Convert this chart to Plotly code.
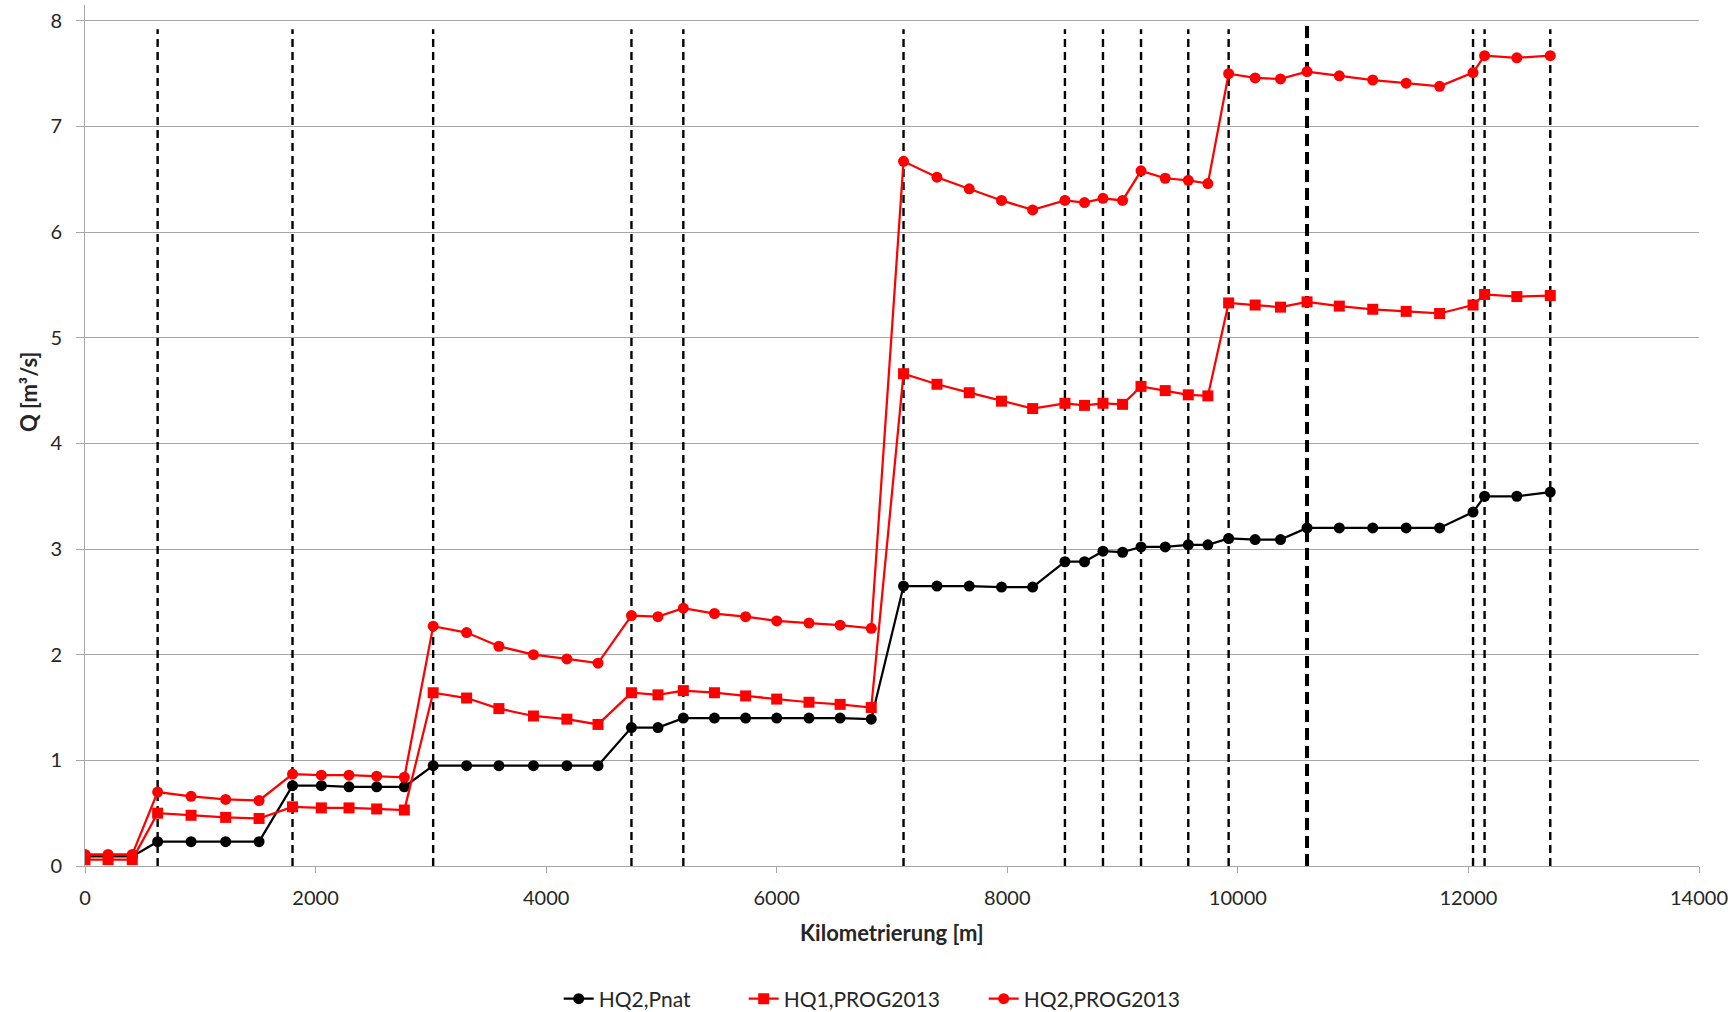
import plotly.graph_objects as go

# Kilometrierung of the cross sections [m]
km = [0, 200, 410, 630, 920, 1220, 1510, 1800, 2050, 2290, 2530, 2770,
      3020, 3310, 3590, 3890, 4180, 4450, 4740, 4970, 5190, 5460, 5730,
      6000, 6280, 6550, 6820, 7100, 7390, 7670, 7950, 8220, 8500, 8670,
      8830, 9000, 9160, 9370, 9570, 9740, 9920, 10150, 10370, 10600,
      10880, 11170, 11460, 11750, 12040, 12140, 12420, 12710]

# Discharge Q [m³/s]
hq2_pnat = [0.09, 0.09, 0.09, 0.23, 0.23, 0.23, 0.23, 0.76, 0.76, 0.75,
            0.75, 0.75, 0.95, 0.95, 0.95, 0.95, 0.95, 0.95, 1.31, 1.31,
            1.40, 1.40, 1.40, 1.40, 1.40, 1.40, 1.39, 2.65, 2.65, 2.65,
            2.64, 2.64, 2.88, 2.88, 2.98, 2.97, 3.02, 3.02, 3.04, 3.04,
            3.10, 3.09, 3.09, 3.20, 3.20, 3.20, 3.20, 3.20, 3.35, 3.50,
            3.50, 3.54]

hq1_prog2013 = [0.06, 0.06, 0.06, 0.50, 0.48, 0.46, 0.45, 0.56, 0.55, 0.55,
                0.54, 0.53, 1.64, 1.59, 1.49, 1.42, 1.39, 1.34, 1.64, 1.62,
                1.66, 1.64, 1.61, 1.58, 1.55, 1.53, 1.50, 4.66, 4.56, 4.48,
                4.40, 4.33, 4.38, 4.36, 4.38, 4.37, 4.54, 4.50, 4.46, 4.45,
                5.33, 5.31, 5.29, 5.34, 5.30, 5.27, 5.25, 5.23, 5.31, 5.41,
                5.39, 5.40]

hq2_prog2013 = [0.11, 0.11, 0.11, 0.70, 0.66, 0.63, 0.62, 0.87, 0.86, 0.86,
                0.85, 0.84, 2.27, 2.21, 2.08, 2.00, 1.96, 1.92, 2.37, 2.36,
                2.44, 2.39, 2.36, 2.32, 2.30, 2.28, 2.25, 6.67, 6.52, 6.41,
                6.30, 6.21, 6.30, 6.28, 6.32, 6.30, 6.58, 6.51, 6.49, 6.46,
                7.50, 7.46, 7.45, 7.52, 7.48, 7.44, 7.41, 7.38, 7.51, 7.67,
                7.65, 7.67]

# Positions of the marked profile boundaries [m]
boundaries = [630, 1800, 3020, 4740, 5190, 7100, 8500, 8830, 9160, 9570,
              9920, 12040, 12140, 12710]
boundary_main = [10600]
boundary_top = 7.92
boundary_main_top = 7.98

x_ticks = [0, 2000, 4000, 6000, 8000, 10000, 12000, 14000]
y_ticks = [0, 1, 2, 3, 4, 5, 6, 7, 8]

FONT = "Lato, 'Open Sans', sans-serif"
TEXT = "#262626"
GRID = "#a6a6a6"


def vertical_segments(xs, top):
    x, y = [], []
    for v in xs:
        x += [v, v, None]
        y += [0, top, None]
    return x, y


fig = go.Figure()

bx, by = vertical_segments(boundaries, boundary_top)
fig.add_trace(go.Scatter(x=bx, y=by, mode="lines", showlegend=False,
                         hoverinfo="skip",
                         line=dict(color="black", width=2.4, dash="8px,5px")))
mx, my = vertical_segments(boundary_main, boundary_main_top)
fig.add_trace(go.Scatter(x=mx, y=my, mode="lines", showlegend=False,
                         hoverinfo="skip",
                         line=dict(color="black", width=4, dash="12px,6px")))

# Each series gets its own legend box so the entries can be spaced freely
fig.add_trace(go.Scatter(
    x=km, y=hq2_pnat, name="HQ2,Pnat", mode="lines+markers",
    legend="legend",
    line=dict(color="black", width=2.25),
    marker=dict(symbol="circle", size=11, color="black")))
fig.add_trace(go.Scatter(
    x=km, y=hq1_prog2013, name="HQ1,PROG2013", mode="lines+markers",
    legend="legend2",
    line=dict(color="#ff0000", width=2.25),
    marker=dict(symbol="square", size=11, color="#ff0000")))
fig.add_trace(go.Scatter(
    x=km, y=hq2_prog2013, name="HQ2,PROG2013", mode="lines+markers",
    legend="legend3",
    line=dict(color="#ff0000", width=2.25),
    marker=dict(symbol="circle", size=11, color="#ff0000")))

legend_style = dict(orientation="h", xanchor="left", y=-0.1545,
                    yanchor="middle", bgcolor="rgba(0,0,0,0)",
                    font=dict(family=FONT, size=21, color=TEXT))

fig.update_layout(
    width=1734, height=1012,
    margin=dict(l=85, r=35, t=5, b=146, autoexpand=False),
    paper_bgcolor="white", plot_bgcolor="white",
    font=dict(family=FONT, size=19, color=TEXT),
    showlegend=True,
    legend=dict(x=0.2935, **legend_style),
    legend2=dict(x=0.4081, **legend_style),
    legend3=dict(x=0.5568, **legend_style),
    xaxis=dict(range=[0, 14000], tickvals=x_ticks,
               ticktext=[str(v) for v in x_ticks],
               showgrid=False, zeroline=False,
               showline=True, linecolor=GRID, linewidth=1,
               ticks="outside", ticklen=6, tickcolor=GRID,
               ticklabelstandoff=8,
               tickfont=dict(family=FONT, size=20, color=TEXT)),
    yaxis=dict(range=[0, 8.15], tickvals=y_ticks,
               showgrid=True, gridcolor=GRID, gridwidth=1,
               zeroline=False,
               showline=True, linecolor=GRID, linewidth=1,
               ticks="outside", ticklen=8, tickcolor=GRID,
               ticklabelstandoff=10,
               tickfont=dict(family=FONT, size=20, color=TEXT)),
    annotations=[
        dict(text="<b>Kilometrierung [m]</b>", xref="paper", yref="paper",
             x=0.5, y=-0.0767, xanchor="center", yanchor="middle",
             showarrow=False, font=dict(family=FONT, size=22, color=TEXT)),
        dict(text="<b>Q [m³/s]</b>", xref="paper", yref="paper",
             x=-0.0353, y=0.5505, xanchor="center", yanchor="middle",
             textangle=-90, showarrow=False,
             font=dict(family=FONT, size=22, color=TEXT)),
    ],
)

fig.write_html("out.html")
